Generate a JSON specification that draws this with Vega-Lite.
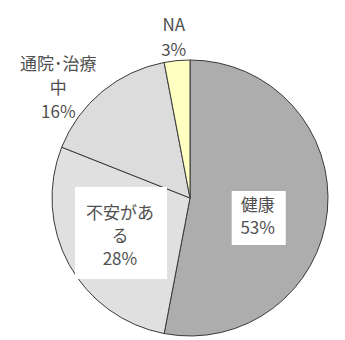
{
  "$schema": "https://vega.github.io/schema/vega-lite/v6.json",
  "width": 300,
  "height": 276,
  "autosize": "none",
  "padding": {"left": 40, "top": 60, "right": 5, "bottom": 4},
  "background": "white",
  "config": {"view": {"stroke": null}},
  "data": {
    "values": [
      {"category": "健康", "value": 53, "label": "健康\n53%", "order": 1},
      {"category": "不安がある", "value": 28, "label": "不安があ\nる\n28%", "order": 2},
      {"category": "通院・治療中", "value": 16, "label": "通院･治療\n中\n16%", "order": 3},
      {"category": "NA", "value": 3, "label": "NA\n3%", "order": 4}
    ]
  },
  "encoding": {
    "theta": {"field": "value", "type": "quantitative", "stack": true},
    "order": {"field": "order", "type": "quantitative"}
  },
  "layer": [
    {
      "mark": {"type": "arc", "stroke": "#3a3a3a", "strokeWidth": 1},
      "encoding": {
        "color": {
          "field": "category",
          "type": "nominal",
          "scale": {
            "domain": ["健康", "不安がある", "通院・治療中", "NA"],
            "range": ["#adadad", "#e0e0e0", "#dcdcdc", "#ffffc2"]
          },
          "legend": null
        }
      }
    },
    {
      "mark": {"type": "text", "radius": 72, "dx": -3, "dy": 18, "font": "Noto Sans CJK JP", "fontSize": 54, "color": "white", "baseline": "middle", "align": "center"},
      "encoding": {"text": {"condition": {"test": "datum.category === '健康'", "value": "█"}, "value": ""}}
    },
    {
      "mark": {"type": "text", "radius": 80, "dx": 1, "dy": 3, "font": "Noto Sans CJK JP", "fontSize": 92, "color": "white", "baseline": "middle", "align": "center"},
      "encoding": {"text": {"condition": {"test": "datum.category === '不安がある'", "value": "█"}, "value": ""}}
    },
    {
      "mark": {"type": "text", "radius": 72, "dx": -4, "dy": 1, "font": "Noto Sans CJK JP", "fontSize": 17, "lineHeight": 23, "color": "#505050", "baseline": "middle", "align": "center", "lineBreak": "\n"},
      "encoding": {"text": {"condition": {"test": "datum.category === '健康'", "field": "label"}, "value": ""}}
    },
    {
      "mark": {"type": "text", "radius": 80, "dy": -23, "font": "Noto Sans CJK JP", "fontSize": 17, "lineHeight": 23, "color": "#505050", "baseline": "middle", "align": "center", "lineBreak": "\n"},
      "encoding": {"text": {"condition": {"test": "datum.category === '不安がある'", "field": "label"}, "value": ""}}
    },
    {
      "mark": {"type": "text", "radius": 172, "dx": -22, "dy": 0, "font": "Noto Sans CJK JP", "fontSize": 17, "lineHeight": 24, "color": "#505050", "baseline": "middle", "align": "center", "lineBreak": "\n"},
      "encoding": {"text": {"condition": {"test": "datum.category === '通院・治療中'", "field": "label"}, "value": ""}}
    },
    {
      "mark": {"type": "text", "radius": 173, "font": "Noto Sans CJK JP", "fontSize": 17, "lineHeight": 25, "color": "#505050", "baseline": "middle", "align": "center", "lineBreak": "\n"},
      "encoding": {"text": {"condition": {"test": "datum.category === 'NA'", "field": "label"}, "value": ""}}
    }
  ]
}
